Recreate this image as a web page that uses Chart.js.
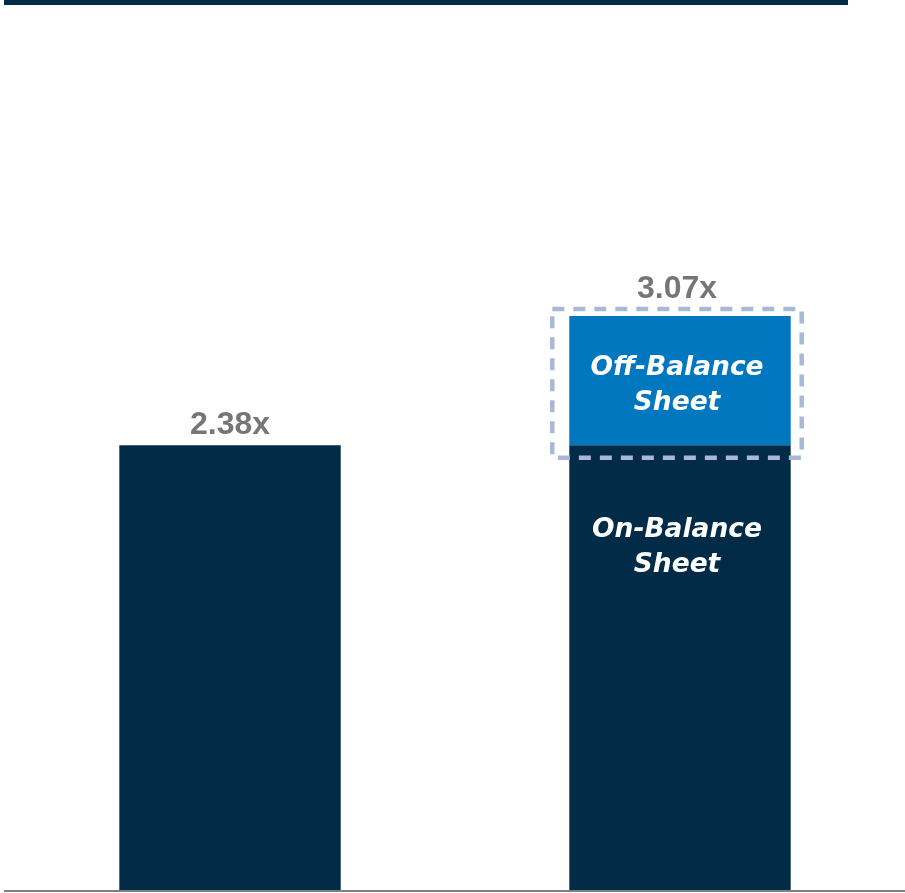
<!DOCTYPE html>
<html>
<head>
<meta charset="utf-8">
<script src="https://cdn.jsdelivr.net/npm/chart.js@4.4.1/dist/chart.umd.min.js"></script>
<style>
  html, body { margin: 0; padding: 0; background: #ffffff; }
  #wrap { width: 905px; height: 893px; position: relative; }
  canvas { display: block; }
</style>
</head>
<body>
<div id="wrap"><canvas id="leverage" width="905" height="893"></canvas></div>
<script>
// Leverage multiple, before and after adding off-balance-sheet items
const categories = ['Reported', 'Including Off-Balance Sheet'];
const onBalance = [2.38, 2.38];
const offBalance = [null, 0.69];
const onBalanceText = ['On-Balance', 'Sheet'];
const offBalanceText = ['Off-Balance', 'Sheet'];
const suffix = 'x';

const NAVY = '#012b46';
const BLUE = '#0077bf';
const GREY = '#767676';
const DASH = '#a9b8d8';

const decorations = {
  id: 'decorations',
  afterDatasetsDraw(chart) {
    const ctx = chart.ctx;
    ctx.save();

    // heading rule across the top
    ctx.fillStyle = NAVY;
    ctx.fillRect(4, 0, 844, 5);

    const onMeta = chart.getDatasetMeta(0);
    const offMeta = chart.getDatasetMeta(1);

    categories.forEach((_, i) => {
      const onBar = onMeta.data[i];
      const offBar = offMeta.data[i];
      const hasOff = offBalance[i] != null && offBalance[i] > 0;
      const total = (onBalance[i] || 0) + (hasOff ? offBalance[i] : 0);
      const half = onBar.width / 2;

      let labelX = onBar.x;
      let labelTop = onBar.y;

      if (hasOff) {
        // dashed outline around the off-balance segment
        const left = offBar.x - half - 17;
        const right = offBar.x + half + 11;
        const top = offBar.y - 7;
        const bottom = offBar.base + 12.5;
        ctx.setLineDash([12, 9]);
        ctx.lineWidth = 4.5;
        ctx.strokeStyle = DASH;
        ctx.strokeRect(left, top, right - left, bottom - top);
        ctx.setLineDash([]);
        labelX = (left + right) / 2;
        labelTop = top;

        // segment captions
        ctx.fillStyle = '#ffffff';
        ctx.font = 'italic bold 26.5px "DejaVu Sans"';
        ctx.textAlign = 'center';
        ctx.textBaseline = 'alphabetic';
        const offTop = offBar.y;
        ctx.fillText(offBalanceText[0], offBar.x - 3, offTop + 59);
        ctx.fillText(offBalanceText[1], offBar.x - 3, offTop + 94);
        const onTop = onBar.y;
        ctx.fillText(onBalanceText[0], onBar.x - 3, onTop + 92);
        ctx.fillText(onBalanceText[1], onBar.x - 3, onTop + 127);
      }

      // total multiple above the column
      ctx.fillStyle = GREY;
      ctx.font = 'bold 32px "Liberation Sans", Arial, sans-serif';
      ctx.textAlign = 'center';
      ctx.textBaseline = 'alphabetic';
      ctx.fillText(total.toFixed(2) + suffix, labelX, labelTop - 11);
    });

    ctx.restore();
  }
};

new Chart(document.getElementById('leverage'), {
  type: 'bar',
  data: {
    labels: categories,
    datasets: [
      {
        label: 'On-Balance Sheet',
        data: onBalance,
        backgroundColor: NAVY,
        borderWidth: 0,
        barPercentage: 0.492,
        categoryPercentage: 1.0
      },
      {
        label: 'Off-Balance Sheet',
        data: offBalance,
        backgroundColor: BLUE,
        borderWidth: 0,
        barPercentage: 0.492,
        categoryPercentage: 1.0
      }
    ]
  },
  options: {
    responsive: false,
    animation: false,
    devicePixelRatio: 1,
    layout: { padding: { top: 48, left: 5, right: -2, bottom: 2 } },
    plugins: {
      legend: { display: false },
      tooltip: { enabled: false },
      title: { display: false }
    },
    scales: {
      x: {
        stacked: true,
        grid: { display: false },
        ticks: { display: false },
        border: { display: true, color: '#7f7f7f', width: 2, z: 1 },
        afterFit(scale) { scale.height = 0; }
      },
      y: {
        stacked: true,
        display: false,
        min: 0,
        max: 4.5
      }
    }
  },
  plugins: [decorations]
});
</script>
</body>
</html>
